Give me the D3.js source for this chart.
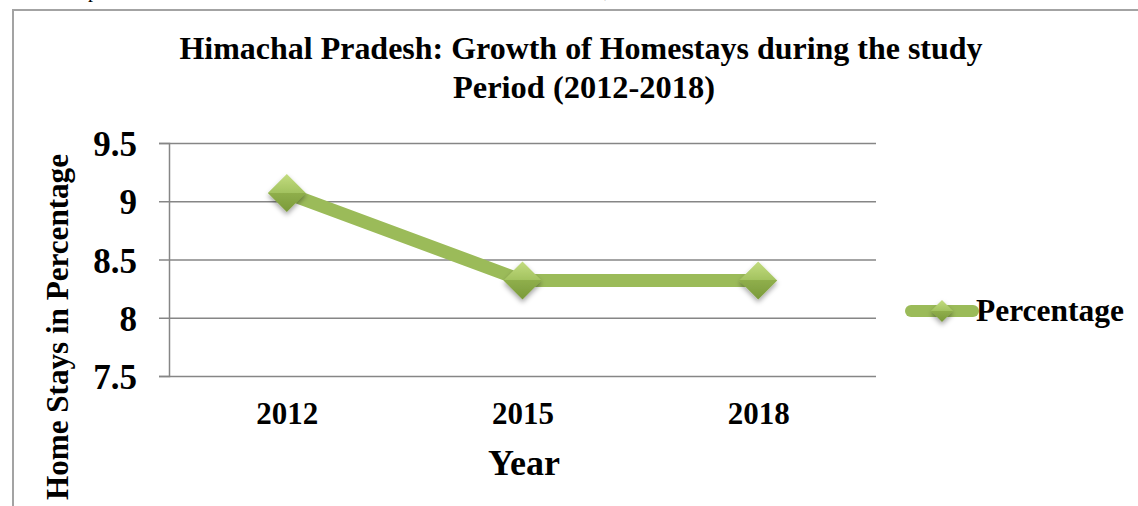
<!DOCTYPE html>
<html>
<head>
<meta charset="utf-8">
<script src="https://cdn.jsdelivr.net/npm/d3@7"></script>
<style>
  body { margin: 0; background: #fff; }
  svg text { font-family: "Liberation Serif", "Times New Roman", serif; font-weight: bold; fill: #000; }
</style>
</head>
<body>
<div id="chart"></div>
<script>
// chart data
const years = ['2012', '2015', '2018'];
const percentage = [9.07, 8.32, 8.32];
const yTicks = [7.5, 8, 8.5, 9, 9.5];
const seriesName = 'Percentage';

const W = 1138, H = 506;
const svg = d3.select('#chart').append('svg').attr('width', W).attr('height', H);

const defs = svg.append('defs');
const grad = defs.append('linearGradient').attr('id', 'mk').attr('x1', 0).attr('y1', 0).attr('x2', 0).attr('y2', 1);
grad.append('stop').attr('offset', '0%').attr('stop-color', '#c3dc7f');
grad.append('stop').attr('offset', '50%').attr('stop-color', '#a2c25f');
grad.append('stop').attr('offset', '50%').attr('stop-color', '#8fae4b');
grad.append('stop').attr('offset', '100%').attr('stop-color', '#7a9a3a');
const shadow = defs.append('filter').attr('id', 'sh').attr('x', '-50%').attr('y', '-50%').attr('width', '200%').attr('height', '200%');
shadow.append('feDropShadow').attr('dx', 0).attr('dy', 3).attr('stdDeviation', 2.5).attr('flood-color', '#000').attr('flood-opacity', 0.35);

// fragments of the surrounding page text (cut off at the top, as in the source)
svg.append('text').attr('x', 88).attr('y', -3).style('font-weight', 'normal').style('font-size', '20px').text('p');
svg.append('text').attr('x', 604).attr('y', -3).style('font-weight', 'normal').style('font-size', '20px').text(',');

// chart frame
svg.append('rect').attr('x', 13).attr('y', 10).attr('width', 1200).attr('height', 600)
  .attr('fill', 'none').attr('stroke', '#a3a3a3').attr('stroke-width', 2);

// title
const title = svg.append('text').attr('text-anchor', 'middle').style('font-size', '32px');
title.append('tspan').attr('x', 581).attr('y', 59)
  .attr('textLength', 803).attr('lengthAdjust', 'spacingAndGlyphs')
  .text('Himachal Pradesh: Growth of Homestays during the study');
const t2 = svg.append('text').attr('text-anchor', 'middle').style('font-size', '32px');
t2.append('tspan').attr('x', 584).attr('y', 98)
  .attr('textLength', 262).attr('lengthAdjust', 'spacingAndGlyphs')
  .text('Period (2012-2018)');

const x = d3.scalePoint().domain(years).range([169, 876]).padding(0.5);
const y = d3.scaleLinear().domain([7.5, 9.5]).range([376, 143]);

// gridlines + y axis
const yAxis = svg.append('g').attr('transform', 'translate(169,0)')
  .call(d3.axisLeft(y).tickValues(yTicks).tickSize(10).tickFormat(d3.format('')));
yAxis.select('.domain').attr('stroke', '#868686').attr('stroke-width', 1.5);
yAxis.selectAll('.tick line').attr('stroke', '#868686').attr('stroke-width', 1.5);
yAxis.selectAll('.tick').append('line').attr('x1', 0).attr('x2', 876 - 169)
  .attr('stroke', '#868686').attr('stroke-width', 1.5);
yAxis.selectAll('.tick text').attr('x', -32).attr('dy', '0.36em')
  .style('font-size', '35px').style('font-family', '"Liberation Serif", serif').style('font-weight', 'bold');

// x axis labels
const xAxis = svg.append('g').attr('transform', 'translate(0,376)')
  .call(d3.axisBottom(x).tickSize(0));
xAxis.select('.domain').remove();
xAxis.selectAll('.tick text').attr('y', 48).attr('dy', 0)
  .style('font-size', '31px').style('font-family', '"Liberation Serif", serif').style('font-weight', 'bold');

// axis titles
svg.append('text').attr('x', 524).attr('y', 475).attr('text-anchor', 'middle').style('font-size', '36px').text('Year');
svg.append('text').attr('transform', 'translate(68,327) rotate(-90)').attr('text-anchor', 'middle')
  .attr('textLength', 346).attr('lengthAdjust', 'spacingAndGlyphs')
  .style('font-size', '31px').text('Home Stays in Percentage');

// series line
const pts = years.map((d, i) => ({ year: d, value: percentage[i] }));
svg.append('path').datum(pts)
  .attr('fill', 'none').attr('stroke', '#9bbb59').attr('stroke-width', 13)
  .attr('d', d3.line().x(d => x(d.year)).y(d => y(d.value)));

const diamond = s => `M0,${-s}L${s},0L0,${s}L${-s},0Z`;
svg.selectAll('.marker').data(pts).enter().append('path')
  .attr('class', 'marker')
  .attr('transform', d => `translate(${x(d.year)},${y(d.value)})`)
  .attr('d', diamond(19)).attr('fill', 'url(#mk)').attr('filter', 'url(#sh)');

// legend
const lg = svg.append('g').attr('transform', 'translate(911,311)');
lg.append('line').attr('x1', 0).attr('x2', 62).attr('stroke', '#9bbb59').attr('stroke-width', 12).attr('stroke-linecap', 'round');
lg.append('path').attr('transform', 'translate(31,0)').attr('d', diamond(11)).attr('fill', 'url(#mk)').attr('filter', 'url(#sh)');
lg.append('text').attr('x', 65).attr('y', 10)
  .attr('textLength', 148).attr('lengthAdjust', 'spacingAndGlyphs')
  .style('font-size', '31px').text(seriesName);
</script>
</body>
</html>
